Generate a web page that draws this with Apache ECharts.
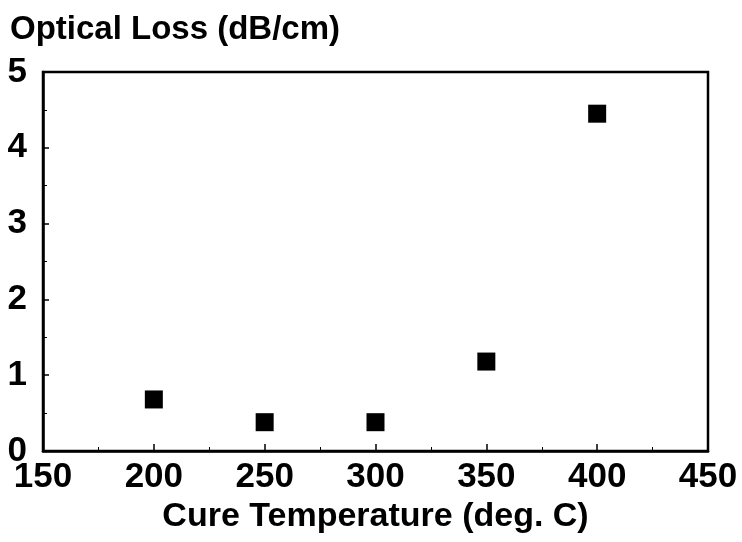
<!DOCTYPE html>
<html>
<head>
<meta charset="utf-8">
<script src="https://cdn.jsdelivr.net/npm/echarts@6/dist/echarts.min.js"></script>
<style>html,body{margin:0;padding:0;background:#fff}#c{width:742px;height:542px}</style>
</head>
<body>
<div id="c"></div>
<script>
const cureTemps = [200, 250, 300, 350, 400];
const opticalLoss = [0.68, 0.38, 0.38, 1.18, 4.45];
const titleText = 'Optical Loss (dB/cm)';
const xAxisName = 'Cure Temperature (deg. C)';

const FONT = '"Liberation Sans", Arial, sans-serif';
const chart = echarts.init(document.getElementById('c'), null, {renderer: 'canvas'});
chart.setOption({
  backgroundColor: '#fff',
  animation: false,
  title: {
    text: titleText,
    left: 5, top: 8,
    textStyle: {fontFamily: FONT, fontWeight: 'bold', fontSize: 33, color: '#000'}
  },
  grid: {left: 43, right: 34, top: 72, bottom: 91, show: true, borderColor: '#000', borderWidth: 2.5, backgroundColor: 'transparent'},
  xAxis: {
    type: 'value', min: 150, max: 450, interval: 50,
    name: xAxisName, nameLocation: 'middle', nameGap: 44,
    nameTextStyle: {fontFamily: FONT, fontWeight: 'bold', fontSize: 34, color: '#000'},
    axisLine: {show: true, lineStyle: {color: '#000', width: 2.5}},
    axisTick: {show: true, inside: true, length: 7, lineStyle: {color: '#000', width: 1.5}},
    minorTick: {show: true, splitNumber: 2, length: 4, lineStyle: {color: '#000', width: 1}},
    splitLine: {show: false},
    axisLabel: {fontFamily: FONT, fontWeight: 'bold', fontSize: 35, color: '#000', margin: 9}
  },
  yAxis: {
    type: 'value', min: 0, max: 5, interval: 1,
    axisLine: {show: true, lineStyle: {color: '#000', width: 2.5}},
    axisTick: {show: true, inside: true, length: 6, lineStyle: {color: '#000', width: 1.5}},
    minorTick: {show: true, splitNumber: 2, length: 4, lineStyle: {color: '#000', width: 1}},
    splitLine: {show: false},
    axisLabel: {fontFamily: FONT, fontWeight: 'bold', fontSize: 35, color: '#000', margin: 16}
  },
  series: [{
    type: 'scatter',
    data: cureTemps.map((t, i) => [t, opticalLoss[i]]),
    symbol: 'rect', symbolSize: 18,
    itemStyle: {color: '#000', opacity: 1}
  }]
});
</script>
</body>
</html>
